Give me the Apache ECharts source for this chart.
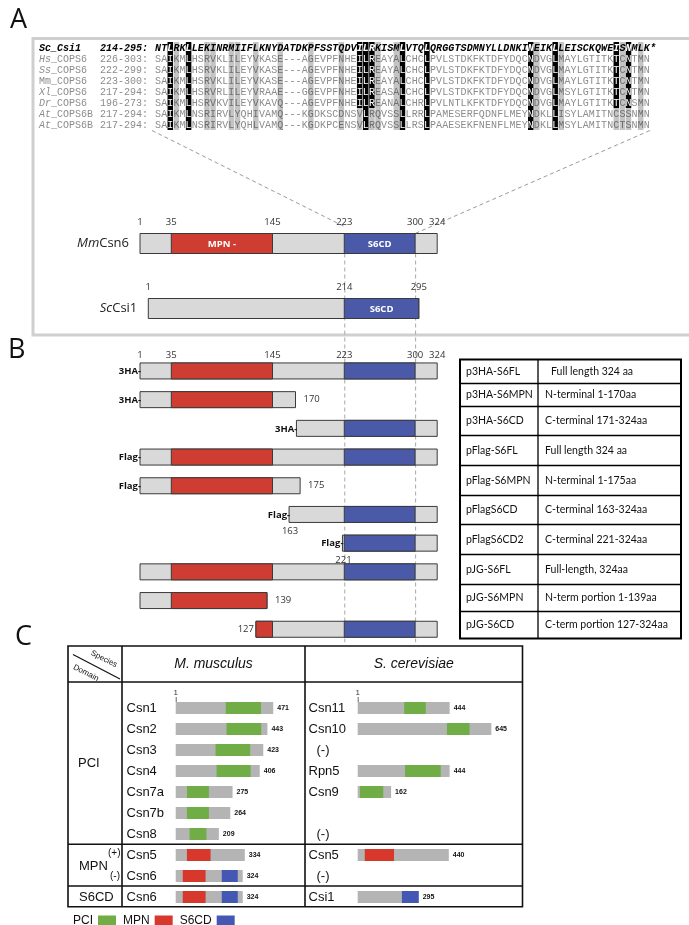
<!DOCTYPE html>
<html>
<head>
<meta charset="utf-8">
<script src="https://cdn.jsdelivr.net/npm/echarts@6/dist/echarts.min.js"></script>
<style>html,body{margin:0;padding:0;background:#fff;}#chart{width:689px;height:925px;}</style>
</head>
<body>
<div id="chart"></div>
<script>
// ======================= DATA =======================
// Panel A - alignment
const alignSpecies = ['Sc','Hs','Ss','Mm','Xl','Dr','At','At'];
const alignProteins = ['_Csi1','_COPS6','_COPS6','_COPS6','_COPS6','_COPS6','_COPS6B','_COPS6B'];
const alignRanges = ['214-295:','226-303:','222-299:','223-300:','217-294:','196-273:','217-294:','217-294:'];
const alignSeqs = [
  'NTLRKLLEKINRMIIFLKNYDATDKPFSSTQDVILRKISMLVTQLQRGGTSDMNYLLDNKINEIKLLEISCKQWEISNMLK*',
  'SAIKMLHSRVKLILEYVKASE---AGEVPFNHEILREAYALCHCLPVLSTDKFKTDFYDQCNDVGLMAYLGTITKTCNTMN',
  'SAIKMLHSRVKLILEYVKASE---AGEVPFNHEILREAYALCHCLPVLSTDKFKTDFYDQCNDVGLMAYLGTITKTCNTMN',
  'SAIKMLHSRVKLILEYVKASE---AGEVPFNHEILREAYALCHCLPVLSTDKFKTDFYDQCNDVGLMAYLGTITKTCNTMN',
  'SAIKMLHSRVRLILEYVRAAE---GGEVPFNHEILREASALCHCLPVLSTDKFKTDFYDQCNDVGLMSYLGTITKTCNTMN',
  'SAIKMLHSRVKVILEYVKAVQ---AGEVPFNHEILREANALCHRLPVLNTLKFKTDFYDQCNDVGLMAYLGTITKTCNSMN',
  'SAIKMLNSRIRVLYQHIVAMQ---KGDKSCDNSVLRQVSSLLRRLPAMESERFQDNFLMEYNDKLLISYLAMITNCSSNMN',
  'SAIKMLNSRIRVLYQHLVAMQ---KGDKPCENSVLRQVSSLLRSLPAAESEKFNENFLMEYNDKLLMSYLAMITNCTSNMN'
];
const blackCols = [3, 6, 35, 41, 45, 62, 66];
const blackColsUpper = [34, 36, 76, 78];
const greyCols = [4, 9, 10, 13, 14, 17, 21, 26, 31, 37, 40, 63, 67, 77, 80];

// Panel A - domain maps
const csn6Length = 324;
const csn6MPN = [35, 145];
const csn6S6CD = [223, 300];
const csi1Length = 295;
const csi1S6CD = [214, 295];

// Panel B - constructs
const constructNames = ['p3HA-S6FL','p3HA-S6MPN','p3HA-S6CD','pFlag-S6FL','pFlag-S6MPN','pFlagS6CD','pFlagS6CD2','pJG-S6FL','pJG-S6MPN','pJG-S6CD'];
const constructDesc = ['Full length 324 aa','N-terminal 1-170aa','C-terminal 171-324aa','Full length 324 aa','N-terminal 1-175aa','C-terminal 163-324aa','C-terminal 221-324aa','Full-length, 324aa','N-term portion 1-139aa','C-term portion 127-324aa'];
const constructStart = [1, 1, 171, 1, 1, 163, 221, 1, 1, 127];
const constructEnd = [324, 170, 324, 324, 175, 324, 324, 324, 139, 324];
const constructTag = ['3HA','3HA','3HA','Flag','Flag','Flag','Flag','','',''];

// Panel C
const mmNames = ['Csn1','Csn2','Csn3','Csn4','Csn7a','Csn7b','Csn8','Csn5','Csn6','Csn6'];
const mmLength = [471, 443, 423, 406, 275, 264, 209, 334, 324, 324];
const mmPCI = [[242,412],[246,413],[193,360],[198,362],[55,161],[55,161],[68,149],null,null,null];
const mmMPN = [null,null,null,null,null,null,null,[55,169],[35,145],[35,145]];
const mmS6CD = [null,null,null,null,null,null,null,null,[223,300],[223,300]];
const scNames = ['Csn11','Csn10','(-)','Rpn5','Csn9','','(-)','Csn5','(-)','Csi1'];
const scLength = [444, 645, null, 444, 162, null, null, 440, null, 295];
const scPCI = [[225,329],[431,540],null,[229,401],[12,124],null,null,null,null,null];
const scMPN = [null,null,null,null,null,null,null,[35,176],null,null];
const scS6CD = [null,null,null,null,null,null,null,null,null,[214,295]];
const legendNames = ['PCI','MPN','S6CD'];

// ======================= STYLE / LAYOUT =======================
const MONO = '"Liberation Mono", monospace';
const OPEN = '"Open Sans", sans-serif';
const ARIAL = '"Liberation Sans", Arial, sans-serif';
const LATO = 'Lato, "Open Sans", sans-serif';
const COL = {
  abGrey:'#d9d9d9', abStroke:'#3a3a3a', abRed:'#cf3d32', abBlue:'#4a5aa9',
  cGrey:'#b4b4b4', cGreen:'#70ad47', cRed:'#d8382c', cBlue:'#4457b3',
  shadeBlack:'#000', shadeGrey:'#c4c4c4'
};
const bEndLabelPos = {1:'right', 4:'right', 5:'below', 6:'below', 8:'right', 9:'left'};
const bTableRowH = [24, 23, 29, 30, 30, 29, 30, 30, 27, 27];
const bTableDescIndent = {0: 6};

const chart = echarts.init(document.getElementById('chart'), null, {renderer:'canvas', width:689, height:925});

// ---------- alignment cells ----------
const alignCells = [];
alignSeqs.forEach((seq, r) => {
  for (let i = 0; i < seq.length; i++) {
    const col = i + 1;
    let shade = 0;
    if (blackCols.includes(col)) shade = 2;
    else if (blackColsUpper.includes(col)) shade = r <= 5 ? 2 : 1;
    else if (greyCols.includes(col)) shade = 1;
    alignCells.push([col, r, shade, seq[i]]);
  }
});

function renderAlign(params, api) {
  const d = alignCells[params.dataIndex];
  const r = d[1], shade = d[2], chr = d[3];
  const a = api.coord([d[0] - 1, r]), b = api.coord([d[0], r]);
  const h = api.size([0, 1])[1];
  const w = b[0] - a[0];
  const kids = [];
  if (shade) kids.push({type:'rect', shape:{x:a[0]+0.3, y:a[1]-h/2, width:w-0.6, height:h}, style:{fill: shade === 2 ? COL.shadeBlack : COL.shadeGrey}});
  const head = r === 0;
  kids.push({type:'text', style:{text:chr, x:a[0]+w/2, y:a[1]+0.5, align:'center', verticalAlign:'middle',
    font:(head ? 'italic bold ' : '') + '10px ' + MONO,
    fill: shade === 2 ? '#fff' : (head ? '#000' : (shade === 1 ? '#6e6e6e' : '#8c8c8c'))}});
  return {type:'group', children:kids};
}
function renderAlignName(params, api) {
  const r = params.dataIndex;
  const o = api.coord([0, r]);
  const pitch = api.size([1, 0])[0];
  const head = r === 0;
  const fill = head ? '#000' : '#8c8c8c';
  const spItalic = head || alignSpecies[r] !== 'Mm';
  return {type:'group', children:[
    {type:'text', style:{x:o[0]-19*pitch, y:o[1]+0.5, verticalAlign:'middle',
      text:'{s|' + alignSpecies[r] + '}{p|' + alignProteins[r] + '}',
      rich:{s:{font:(spItalic ? 'italic ' : '') + (head ? 'bold ' : '') + '10px ' + MONO, fill:fill},
            p:{font:(head ? 'italic bold ' : '') + '10px ' + MONO, fill:fill}}}},
    {type:'text', style:{x:o[0]-9*pitch, y:o[1]+0.5, verticalAlign:'middle', text:alignRanges[r],
      font:(head ? 'italic bold ' : '') + '10px ' + MONO, fill:fill}}
  ]};
}

// ---------- generic bar renderer ----------
function barRender(h, stroke, extra) {
  return function (params, api) {
    const row = api.value(0), s = api.value(1), e = api.value(2);
    const p0 = api.coord([s, row]), p1 = api.coord([e, row]);
    const kids = [{type:'rect', shape:{x:p0[0], y:p0[1]-h/2, width:p1[0]-p0[0], height:h},
      style:{fill:api.visual('color'), stroke:stroke || null, lineWidth:stroke ? 1 : 0}}];
    if (extra) extra(kids, params.dataIndex, p0, p1, h, row);
    return {type:'group', children:kids};
  };
}
function tickRender(dy, font) {
  return function (params, api) {
    const p = api.coord([api.value(1), api.value(0)]);
    return {type:'text', style:{text:String(api.value(2)), x:p[0], y:p[1]+dy, align:'center', verticalAlign:'middle', font:font, fill:'#333'}};
  };
}

// ---------- Panel A items ----------
const csi1Shift = csn6S6CD[0] - csi1S6CD[0];
const aBase = [[0, 1, csn6Length], [1, 1 + csi1Shift, csi1Length + csi1Shift]];
const aNames = [['Mm','Csn6'], ['Sc','Csi1']];
const aMPN = [[0, csn6MPN[0], csn6MPN[1]]];
const aS6CD = [[0, csn6S6CD[0], csn6S6CD[1]], [1, csi1S6CD[0] + csi1Shift, csi1S6CD[1] + csi1Shift]];
const aTicks = [1, csn6MPN[0], csn6MPN[1], csn6S6CD[0], csn6S6CD[1], csn6Length].map(v => [0, v, v])
  .concat([1, csi1S6CD[0], csi1S6CD[1]].map(v => [1, v + csi1Shift, v]));

// ---------- Panel B items ----------
const bBase = [], bMPN = [], bS6CD = [];
constructStart.forEach((s, i) => {
  const e = constructEnd[i];
  bBase.push([i, s, e]);
  const ms = Math.max(s, csn6MPN[0]), me = Math.min(e, csn6MPN[1]);
  if (ms < me) bMPN.push([i, ms, me]);
  const ss = Math.max(s, csn6S6CD[0]), se = Math.min(e, csn6S6CD[1]);
  if (ss < se) bS6CD.push([i, ss, se]);
});
const bTicks = [1, csn6MPN[0], csn6MPN[1], csn6S6CD[0], csn6S6CD[1], csn6Length].map(v => [0, v, v]);

// ---------- Panel C items ----------
function cItems(len) { const o = []; len.forEach((l, i) => { if (l) o.push([i, 1, l]); }); return o; }
function cDom(arr) { const o = []; arr.forEach((d, i) => { if (d) o.push([i, d[0], d[1]]); }); return o; }
const mmBase = cItems(mmLength), scBase = cItems(scLength);

function cBaseExtra(lenArr) {
  return function (kids, idx, p0, p1, h, row) {
    kids.push({type:'text', style:{text:String(lenArr[row]), x:p1[0]+4, y:p0[1]+0.5, verticalAlign:'middle', font:'bold 7px ' + ARIAL, fill:'#111'}});
    if (idx === 0) {
      kids.push({type:'text', style:{text:'1', x:p0[0], y:p0[1]-h/2-9, align:'center', verticalAlign:'middle', font:'8px ' + ARIAL, fill:'#333'}});
      kids.push({type:'line', shape:{x1:p0[0]+0.5, y1:p0[1]-h/2-5, x2:p0[0]+0.5, y2:p0[1]-h/2}, style:{stroke:'#666', lineWidth:1}});
    }
  };
}
function cLabelRender(names) {
  return function (params, api) {
    const r = params.dataIndex;
    const o = api.coord([0, r]);
    const t = names[r];
    return {type:'text', style:{text:t, x:o[0]-49 + (t === '(-)' ? 8 : 0), y:o[1]+0.5, verticalAlign:'middle', font:'13px ' + ARIAL, fill:'#111'}};
  };
}

function xAx(g, max) { return {type:'value', gridIndex:g, min:0, max:max, show:false}; }
function yAx(g, n) { return {type:'category', gridIndex:g, data:Array.from({length:n}, (_, i) => String(i)), inverse:true, show:false}; }

const series = [
  {type:'custom', name:'align', xAxisIndex:0, yAxisIndex:0, data:alignCells.map(d => [d[0], d[1]]), encode:{x:0, y:1}, renderItem:renderAlign, silent:true},
  {type:'custom', name:'alignNames', xAxisIndex:0, yAxisIndex:0, data:alignSeqs.map((s, r) => [0, r]), encode:{x:0, y:1}, renderItem:renderAlignName, silent:true},
  {type:'custom', name:'A base', xAxisIndex:1, yAxisIndex:1, data:aBase, encode:{y:0, x:[1,2]}, itemStyle:{color:COL.abGrey},
    renderItem:barRender(20, COL.abStroke, (kids, idx, p0, p1, h, row) => {
      kids.push({type:'text', style:{x:p0[0]-11, y:p0[1], align:'right', verticalAlign:'middle',
        text:'{i|' + aNames[row][0] + '}{n|' + aNames[row][1] + '}', rich:{i:{font:'italic 13px ' + OPEN, fill:'#222'}, n:{font:'13px ' + OPEN, fill:'#222'}}}});
    }), silent:true},
  {type:'custom', name:'A MPN', xAxisIndex:1, yAxisIndex:1, data:aMPN, encode:{y:0, x:[1,2]}, itemStyle:{color:COL.abRed},
    renderItem:barRender(20, COL.abStroke, (kids, idx, p0, p1) => {
      kids.push({type:'text', style:{text:'MPN -', x:(p0[0]+p1[0])/2, y:p0[1]+0.5, align:'center', verticalAlign:'middle', font:'bold 9.5px ' + OPEN, fill:'#fff'}});
    }), silent:true},
  {type:'custom', name:'A S6CD', xAxisIndex:1, yAxisIndex:1, data:aS6CD, encode:{y:0, x:[1,2]}, itemStyle:{color:COL.abBlue},
    renderItem:barRender(20, COL.abStroke, (kids, idx, p0, p1) => {
      kids.push({type:'text', style:{text:'S6CD', x:(p0[0]+p1[0])/2, y:p0[1]+0.5, align:'center', verticalAlign:'middle', font:'bold 9.5px ' + OPEN, fill:'#fff'}});
    }), silent:true},
  {type:'custom', name:'A ticks', xAxisIndex:1, yAxisIndex:1, data:aTicks, encode:{y:0, x:1}, renderItem:tickRender(-21, '9.5px ' + OPEN), silent:true},
  {type:'custom', name:'B base', xAxisIndex:2, yAxisIndex:2, data:bBase, encode:{y:0, x:[1,2]}, itemStyle:{color:COL.abGrey},
    renderItem:barRender(16, COL.abStroke, (kids, idx, p0, p1, h, row) => {
      if (constructTag[row]) kids.push({type:'text', style:{text:constructTag[row] + '-', x:p0[0]+1, y:p0[1]+0.5, align:'right', verticalAlign:'middle', font:'bold 9.5px ' + OPEN, fill:'#111'}});
      const pos = bEndLabelPos[row];
      const f = '9.5px ' + OPEN;
      if (pos === 'right') kids.push({type:'text', style:{text:String(constructEnd[row]), x:p1[0]+8, y:p0[1], verticalAlign:'middle', font:f, fill:'#333'}});
      if (pos === 'below') kids.push({type:'text', style:{text:String(constructStart[row]), x:p0[0]+1, y:p0[1]+h/2+9, align:'center', verticalAlign:'middle', font:f, fill:'#333'}});
      if (pos === 'left') kids.push({type:'text', style:{text:String(constructStart[row]), x:p0[0]-2, y:p0[1], align:'right', verticalAlign:'middle', font:f, fill:'#333'}});
    }), silent:true},
  {type:'custom', name:'B MPN', xAxisIndex:2, yAxisIndex:2, data:bMPN, encode:{y:0, x:[1,2]}, itemStyle:{color:COL.abRed}, renderItem:barRender(16, COL.abStroke), silent:true},
  {type:'custom', name:'B S6CD', xAxisIndex:2, yAxisIndex:2, data:bS6CD, encode:{y:0, x:[1,2]}, itemStyle:{color:COL.abBlue}, renderItem:barRender(16, COL.abStroke), silent:true},
  {type:'custom', name:'B ticks', xAxisIndex:2, yAxisIndex:2, data:bTicks, encode:{y:0, x:1}, renderItem:tickRender(-16, '9.5px ' + OPEN), silent:true},
  {type:'custom', name:'C mm base', xAxisIndex:3, yAxisIndex:3, data:mmBase, encode:{y:0, x:[1,2]}, itemStyle:{color:COL.cGrey}, renderItem:barRender(12, null, cBaseExtra(mmLength)), silent:true},
  {type:'custom', name:'PCI', xAxisIndex:3, yAxisIndex:3, data:cDom(mmPCI), encode:{y:0, x:[1,2]}, itemStyle:{color:COL.cGreen}, renderItem:barRender(12, null), silent:true},
  {type:'custom', name:'MPN', xAxisIndex:3, yAxisIndex:3, data:cDom(mmMPN), encode:{y:0, x:[1,2]}, itemStyle:{color:COL.cRed}, renderItem:barRender(12, null), silent:true},
  {type:'custom', name:'S6CD', xAxisIndex:3, yAxisIndex:3, data:cDom(mmS6CD), encode:{y:0, x:[1,2]}, itemStyle:{color:COL.cBlue}, renderItem:barRender(12, null), silent:true},
  {type:'custom', name:'C mm labels', xAxisIndex:3, yAxisIndex:3, data:mmNames.map((n, i) => [0, i]), encode:{x:0, y:1}, renderItem:cLabelRender(mmNames), silent:true},
  {type:'custom', name:'C sc base', xAxisIndex:4, yAxisIndex:4, data:scBase, encode:{y:0, x:[1,2]}, itemStyle:{color:COL.cGrey}, renderItem:barRender(12, null, cBaseExtra(scLength)), silent:true},
  {type:'custom', name:'PCI', xAxisIndex:4, yAxisIndex:4, data:cDom(scPCI), encode:{y:0, x:[1,2]}, itemStyle:{color:COL.cGreen}, renderItem:barRender(12, null), silent:true},
  {type:'custom', name:'MPN', xAxisIndex:4, yAxisIndex:4, data:cDom(scMPN), encode:{y:0, x:[1,2]}, itemStyle:{color:COL.cRed}, renderItem:barRender(12, null), silent:true},
  {type:'custom', name:'S6CD', xAxisIndex:4, yAxisIndex:4, data:cDom(scS6CD), encode:{y:0, x:[1,2]}, itemStyle:{color:COL.cBlue}, renderItem:barRender(12, null), silent:true},
  {type:'custom', name:'C sc labels', xAxisIndex:4, yAxisIndex:4, data:scNames.map((n, i) => [0, i]), encode:{x:0, y:1}, renderItem:cLabelRender(scNames), silent:true}
];

chart.setOption({
  animation:false,
  backgroundColor:'#fff',
  grid:[
    {left:155, top:42, width:501, height:88},
    {left:139.1, top:211, width:298.1, height:130},
    {left:139.1, top:356.6, width:298.1, height:287},
    {left:175.5, top:697.5, width:145.25, height:210},
    {left:357.5, top:697.5, width:145.25, height:210}
  ],
  xAxis:[xAx(0, 82), xAx(1, 324), xAx(2, 324), xAx(3, 700), xAx(4, 700)],
  yAxis:[yAx(0, 8), yAx(1, 2), yAx(2, 10), yAx(3, 10), yAx(4, 10)],
  legend:{data:legendNames, left:68, top:910, icon:'rect', itemWidth:18, itemHeight:11, itemGap:7, align:'right', selectedMode:false,
    textStyle:{fontFamily:ARIAL, fontSize:12, color:'#111'}},
  tooltip:{show:false},
  series:series
});

// ---------- graphics (frames, tables, guides) ----------
const px = (xi, yi, v) => chart.convertToPixel({xAxisIndex:xi, yAxisIndex:yi}, v);
const g = [];
const T = (text, x, y, font, opts) => g.push({type:'text', silent:true, z:10, style:Object.assign({text:text, x:x, y:y, font:font, fill:'#111', verticalAlign:'middle'}, opts || {})});
const L = (x1, y1, x2, y2, stroke, lw, dash, z) => g.push({type:'line', silent:true, z:z == null ? 10 : z, shape:{x1:x1, y1:y1, x2:x2, y2:y2}, style:{stroke:stroke, lineWidth:lw, lineDash:dash || null}});

T('A', 10, 20, '27px ' + OPEN);
T('B', 8, 350, '27px ' + OPEN);
T('C', 15, 637, '27px ' + OPEN);

g.push({type:'rect', silent:true, z:0, shape:{x:33, y:38.5, width:700, height:296.5}, style:{fill:null, stroke:'#cfcfcf', lineWidth:3}});

const s6a = px(1, 1, [csn6S6CD[0], 0]);
const s6b = px(1, 1, [csn6S6CD[1], 0]);
const alnL = px(0, 0, [0, alignSeqs.length - 1]);
const alnR = px(0, 0, [alignSeqs[1].length, alignSeqs.length - 1]);
const bLast = px(2, 2, [csn6S6CD[0], constructStart.length - 1]);
L(alnL[0] - 3, alnL[1] + 6, s6a[0], s6a[1] - 17, '#9a9a9a', 1, [4, 3], 1);
L(alnR[0], alnR[1] + 6, s6b[0], s6b[1] - 10, '#9a9a9a', 1, [4, 3], 1);
L(s6a[0] + 0.5, s6a[1] + 10, s6a[0] + 0.5, bLast[1] + 13, '#a8a8a8', 1, [4, 3], 1);
L(s6b[0] + 0.5, s6b[1] + 10, s6b[0] + 0.5, bLast[1] + 13, '#a8a8a8', 1, [4, 3], 1);

(function () {
  const x0 = 460, x1 = 538, x2 = 681, top = 359.5;
  let y = top;
  const tops = [];
  bTableRowH.forEach(h => { tops.push(y); y += h; });
  const yEnd = y;
  g.push({type:'rect', silent:true, z:10, shape:{x:x0, y:top, width:x2-x0, height:yEnd-top}, style:{fill:'#fff', stroke:'#000', lineWidth:2}});
  L(x1, top, x1, yEnd, '#000', 1.3);
  constructNames.forEach((n, i) => {
    if (i > 0) L(x0, tops[i], x2, tops[i], '#000', 1.3);
    const cy = tops[i] + bTableRowH[i] / 2;
    g.push({type:'text', silent:true, z:11, style:{text:n, x:x0 + 6, y:cy, font:'10.5px ' + LATO, fill:'#111', verticalAlign:'middle'}});
    g.push({type:'text', silent:true, z:11, style:{text:constructDesc[i], x:x1 + 7 + (bTableDescIndent[i] || 0), y:cy, font:'10.5px ' + LATO, fill:'#111', verticalAlign:'middle'}});
  });
})();

(function () {
  const x0 = 68, xa = 122, xb = 305, x1 = 522.5;
  const y0 = 646, yh = 682, yp = 844.3, ym = 886, y1 = 906.7;
  g.push({type:'rect', silent:true, z:0, shape:{x:x0, y:y0, width:x1-x0, height:y1-y0}, style:{fill:null, stroke:'#111', lineWidth:1.6}});
  L(xa, y0, xa, y1, '#111', 1.6);
  L(xb, y0, xb, y1, '#111', 1.6);
  L(x0, yh, x1, yh, '#111', 1.6);
  L(x0, yp, x1, yp, '#111', 1.6);
  L(x0, ym, x1, ym, '#111', 1.6);
  L(73, 654.5, 120, 679, '#111', 1.2);
  g.push({type:'text', silent:true, z:10, rotation:-0.47, x:104, y:659, style:{text:'Species', x:0, y:0, align:'center', verticalAlign:'middle', font:'8px ' + ARIAL, fill:'#111'}});
  g.push({type:'text', silent:true, z:10, rotation:-0.47, x:86, y:673, style:{text:'Domain', x:0, y:0, align:'center', verticalAlign:'middle', font:'8px ' + ARIAL, fill:'#111'}});
  T('M. musculus', (xa + xb) / 2, 664, 'italic 14px ' + ARIAL, {align:'center'});
  T('S. cerevisiae', (xb + x1) / 2, 664, 'italic 14px ' + ARIAL, {align:'center'});
  T('PCI', 78, 763, '13px ' + ARIAL);
  T('MPN', 79, 866, '13px ' + ARIAL);
  T('(+)', 108, 853, '10px ' + ARIAL);
  T('(-)', 110, 876, '10px ' + ARIAL);
  T('S6CD', 79, 897, '13px ' + ARIAL);
})();

chart.setOption({graphic:{elements:g}});
</script>
</body>
</html>
